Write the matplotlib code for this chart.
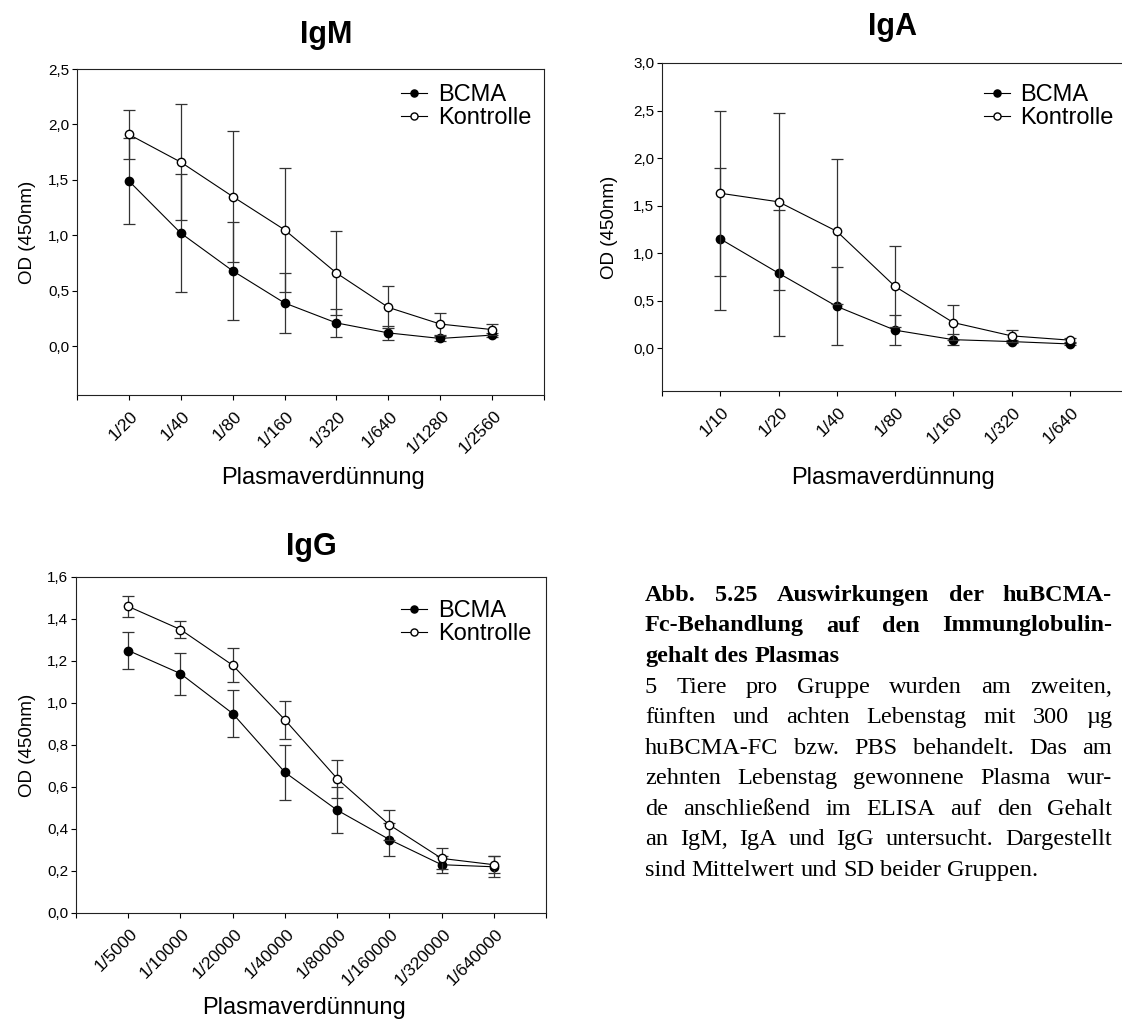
import numpy as np
import matplotlib
matplotlib.use('Agg')
import matplotlib.pyplot as plt
import matplotlib.transforms as mtransforms

plt.rcParams['font.family'] = ['Liberation Sans', 'DejaVu Sans']

# OD (450nm), mean and SD per dilution step
igm_labels = ['1/20', '1/40', '1/80', '1/160', '1/320', '1/640', '1/1280', '1/2560']
igm_bcma = [1.49, 1.02, 0.68, 0.39, 0.21, 0.12, 0.07, 0.10]
igm_bcma_sd = [0.39, 0.53, 0.44, 0.27, 0.13, 0.06, 0.02, 0.015]
igm_ktrl = [1.91, 1.66, 1.35, 1.05, 0.66, 0.35, 0.20, 0.15]
igm_ktrl_sd = [0.22, 0.52, 0.59, 0.56, 0.38, 0.19, 0.10, 0.05]

iga_labels = ['1/10', '1/20', '1/40', '1/80', '1/160', '1/320', '1/640']
iga_bcma = [1.15, 0.79, 0.44, 0.19, 0.09, 0.07, 0.045]
iga_bcma_sd = [0.75, 0.66, 0.41, 0.16, 0.06, 0.02, 0.01]
iga_ktrl = [1.63, 1.54, 1.23, 0.65, 0.27, 0.13, 0.085]
iga_ktrl_sd = [0.87, 0.93, 0.76, 0.43, 0.18, 0.06, 0.02]

igg_labels = ['1/5000', '1/10000', '1/20000', '1/40000', '1/80000',
              '1/160000', '1/320000', '1/640000']
igg_bcma = [1.25, 1.14, 0.95, 0.67, 0.49, 0.35, 0.23, 0.22]
igg_bcma_sd = [0.09, 0.10, 0.11, 0.13, 0.11, 0.08, 0.04, 0.05]
igg_ktrl = [1.46, 1.35, 1.18, 0.92, 0.64, 0.42, 0.26, 0.23]
igg_ktrl_sd = [0.05, 0.04, 0.08, 0.09, 0.09, 0.07, 0.05, 0.04]

caption_head = [
    'Abb. 5.25 Auswirkungen der huBCMA-',
    'Fc-Behandlung auf den Immunglobulin-',
    'gehalt des Plasmas',
]
caption_body = [
    '5 Tiere pro Gruppe wurden am zweiten,',
    'fünften und achten Lebenstag mit 300 µg',
    'huBCMA-FC bzw. PBS behandelt. Das am',
    'zehnten Lebenstag gewonnene Plasma wur-',
    'de anschließend im ELISA auf den Gehalt',
    'an IgM, IgA und IgG untersucht. Dargestellt',
    'sind Mittelwert und SD beider Gruppen.',
]

W, H = 1122, 1021
fig = plt.figure(figsize=(W / 100, H / 100), dpi=100)


def fx(px):
    return px / W


def fy(py):
    return 1 - py / H


def panel(box, labels, bcma, bcma_sd, ktrl, ktrl_sd, ylim, yticks, xmax,
          legend_at, ylabel_x):
    left, top, right, bottom = box
    ax = fig.add_axes([fx(left), fy(bottom), (right - left) / W, (bottom - top) / H])
    x = np.arange(1, len(labels) + 1)

    style = dict(fmt='-o', color='black', mec='black', ms=6, lw=0.8,
                 ecolor='#333333', elinewidth=0.9, capsize=4, capthick=0.9)
    eb1 = ax.errorbar(x, bcma, yerr=bcma_sd, mfc='black', zorder=3, **style)
    eb2 = ax.errorbar(x, ktrl, yerr=ktrl_sd, mfc='white', zorder=4, **style)

    ax.set_xlim(0, xmax)
    ax.set_ylim(*ylim)
    ax.set_xticks(np.arange(0, xmax + 1))
    ax.set_xticklabels([''] + labels + [''] * (xmax - len(labels)))
    ax.set_yticks(yticks)
    ax.set_yticklabels([f'{v:.1f}'.replace('.', ',') for v in yticks])

    ax.tick_params(axis='x', direction='out', length=3.6, width=0.8, pad=6, labelsize=12.5)
    ax.tick_params(axis='y', direction='out', length=3.6, width=0.8, pad=2, labelsize=11)
    for lab in ax.get_xticklabels():
        lab.set_rotation(45)
        lab.set_ha('right')
        lab.set_va('top')
    # shift rotated labels a bit to the right of their tick
    offset = mtransforms.ScaledTranslation(0.12, 0, fig.dpi_scale_trans)
    for lab in ax.xaxis.get_majorticklabels():
        lab.set_transform(lab.get_transform() + offset)

    for sp in ax.spines.values():
        sp.set_linewidth(0.8)
        sp.set_color('#222222')

    ax.set_ylabel('OD (450nm)', fontsize=13.5)
    ax.yaxis.set_label_coords((ylabel_x - left) / (right - left), 0.5)

    ax.legend([eb1[0], eb2[0]], ['BCMA', 'Kontrolle'], loc='upper right',
              bbox_to_anchor=(fx(legend_at[0]), fy(legend_at[1])),
              bbox_transform=fig.transFigure, frameon=False, fontsize=17,
              borderpad=0, borderaxespad=0, handlelength=1.1,
              handletextpad=0.45, labelspacing=0.05, markerscale=0.85)
    return ax


panel((77, 69, 544, 395), igm_labels, igm_bcma, igm_bcma_sd, igm_ktrl, igm_ktrl_sd,
      (-0.44, 2.5), np.arange(0, 2.51, 0.5), 9, (531, 84), 36)
panel((662, 63, 1128, 391), iga_labels, iga_bcma, iga_bcma_sd, iga_ktrl, iga_ktrl_sd,
      (-0.45, 3.0), np.arange(0, 3.01, 0.5), 8, (1114, 84), 618)
panel((76, 577, 546, 913), igg_labels, igg_bcma, igg_bcma_sd, igg_ktrl, igg_ktrl_sd,
      (0, 1.6), np.arange(0, 1.61, 0.2), 9, (531, 600), 36)

# panel titles and x axis labels
for name, cx, base in [('IgM', 326, 43), ('IgA', 893, 35), ('IgG', 311, 555)]:
    fig.text(fx(cx), fy(base), name, ha='center', va='baseline',
             fontsize=22, fontweight='bold')
for cx, base in [(323, 484), (893, 484), (304, 1014)]:
    fig.text(fx(cx), fy(base), 'Plasmaverdünnung', ha='center', va='baseline', fontsize=17)

# justified caption block
renderer = fig.canvas.get_renderer()
cap_left, cap_right = 645, 1112
cap_top, line_step = 601, 30.5


def caption_line(line, y, justify, **kw):
    words = line.split(' ')
    items = [fig.text(0, fy(y), w, ha='left', va='baseline',
                      family=['Liberation Serif', 'DejaVu Serif'], fontsize=17.5, **kw)
             for w in words]
    widths = [t.get_window_extent(renderer).width for t in items]
    if justify and len(words) > 1:
        gap = (cap_right - cap_left - sum(widths)) / (len(words) - 1)
    else:
        gap = 0.25 * 17.5 * 100 / 72
    xpos = cap_left
    for t, w in zip(items, widths):
        t.set_x(fx(xpos))
        xpos += w + gap


lines = [(l, 'bold') for l in caption_head] + [(l, 'normal') for l in caption_body]
for i, (line, weight) in enumerate(lines):
    last = (i == len(caption_head) - 1) or (i == len(lines) - 1)
    caption_line(line, cap_top + i * line_step, not last, fontweight=weight)

fig.savefig('out.png', dpi=100)
